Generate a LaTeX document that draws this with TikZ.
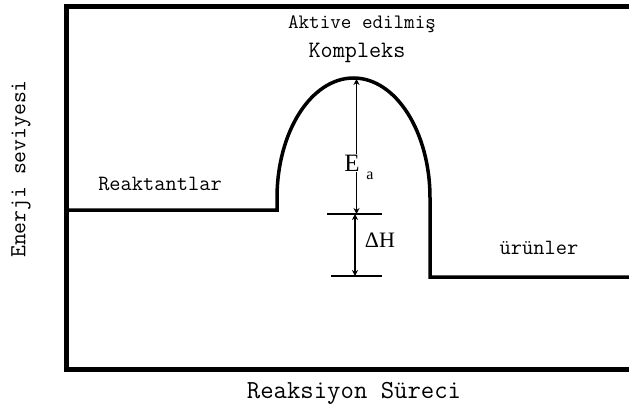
\documentclass[tikz,border=0pt]{standalone}
\usepackage{fontspec}
\newfontfamily\serifE{Liberation Serif}
\usetikzlibrary{arrows.meta}
\begin{document}
\begin{tikzpicture}[x=1pt,y=-1pt,
  frame/.style={line width=5pt},
  curve/.style={line width=3.5pt},
  thin/.style={line width=1.3pt},
  dim/.style={line width=1.3pt,{Stealth[length=6pt,width=6pt]}-{Stealth[length=6pt,width=6pt]}},
  lbl/.style={inner sep=0pt,anchor=center,font=\ttfamily}]
\useasboundingbox (0,0) rectangle (629,412);
% frame
\draw[frame] (629,6.5) -- (66.5,6.5) -- (66.5,369) -- (629,369);
% energy profile
\coordinate (r0) at (68,210);
\coordinate (r1) at (277,210);
\coordinate (p1) at (430,277);
\coordinate (p2) at (629,277);
\draw[curve,line join=miter] (r0) -- (r1) -- (277,198) arc[start angle=180,end angle=360,x radius=76.5,y radius=120] -- (p1) -- (p2);
% levels
\coordinate (t1a) at (327,214); \coordinate (t1b) at (382,214);
\coordinate (t2a) at (331,276); \coordinate (t2b) at (382,276);
\draw[thin] (t1a) -- (t1b);
\draw[thin] (t2a) -- (t2b);
\coordinate (top) at (356.5,79);
\coordinate (mid) at (356.5,214);
\coordinate (low) at (355,276);
\draw[dim] (top) -- (mid);
\draw[dim] (355,214) -- (low);
% labels
\node[lbl] (ak) at (362,24) {\fontsize{20.5}{20}\selectfont Aktive edilmiş};
\node[lbl] (ko) at (357,53) {\fontsize{23.5}{23}\selectfont Kompleks};
\node[lbl] (re) at (160,184) {\fontsize{21.8}{21}\selectfont Reaktantlar};
\node[lbl] (ur) at (539,248) {\fontsize{21.8}{21}\selectfont ürünler};
\node[lbl] (xl) at (354,393) {\fontsize{26}{26}\selectfont Reaksiyon Süreci};
\node[lbl,rotate=90] (yl) at (21,169) {\fontsize{23}{23}\selectfont Enerji seviyesi};
\node[inner sep=1pt,fill=white,font=\serifE\fontsize{25}{25}\selectfont] (ea) at (352,163) {E};
\node[inner sep=0pt,font=\serifE\fontsize{16}{16}\selectfont] (eas) at (370,176) {a};
\node[inner sep=0pt,font=\serifE\fontsize{22}{22}\selectfont] (dh) at (380,240) {ΔH};
\end{tikzpicture}
\end{document}
